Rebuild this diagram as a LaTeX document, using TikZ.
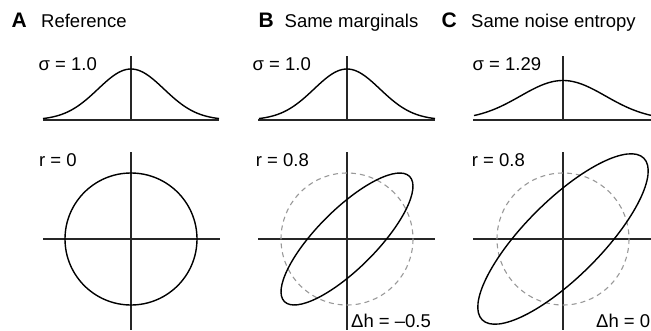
\documentclass[tikz,border=0pt]{standalone}
\usepackage{fontspec}
\setmainfont{Liberation Sans}
\begin{document}
\begin{tikzpicture}[x=1pt,y=-1pt,
  lbl/.style={anchor=base west,inner sep=0pt,font=\fontsize{18.5}{20}\selectfont},
  panel/.style={anchor=base west,inner sep=0pt,font=\fontsize{21}{23}\selectfont\bfseries},
  axis/.style={line width=1.2pt,black!85},
  curve/.style={line width=1.4pt,black},
  dcirc/.style={line width=1.1pt,gray!80,dash pattern=on 5pt off 4pt}]
\useasboundingbox (0,0) rectangle (651,330);
% titles
\node[panel] (pa) at (11.5,27.5) {A};
\node[lbl] (ta) at (41,27.5) {Reference};
\node[panel] (pb) at (258.5,27.5) {B};
\node[lbl] (tb) at (284.5,27.5) {Same marginals};
\node[panel] (pc) at (441.5,27.5) {C};
\node[lbl] (tc) at (471,27.5) {Same noise entropy};
% sigma labels
\node[lbl] (sa) at (38.5,70.7) {σ = 1.0};
\node[lbl] (sb) at (252.5,70.7) {σ = 1.0};
\node[lbl] (sc) at (472.5,70.7) {σ = 1.29};
% r labels
\node[lbl] (ra) at (39,166) {r = 0};
\node[lbl] (rb) at (255.7,166) {r = 0.8};
\node[lbl] (rc) at (471.7,166) {r = 0.8};
% delta h
\node[lbl] (dhb) at (351,327.5) {Δh = –0.5};
\node[lbl] (dhc) at (596,327.5) {Δh = 0};
% panel A
\draw[axis] (131,56) -- (131,120);
\draw[axis] (43,120) -- (219,120);
\draw[curve] plot[domain=-88:88,samples=90,smooth] ({131+\x},{120-51*exp(-\x*\x/2178)});
\draw[axis] (131,152) -- (131,330);
\draw[axis] (43,239) -- (220,239);
\draw[curve] (131,239) circle[radius=66];
% panel B
\draw[axis] (347,56) -- (347,120);
\draw[axis] (258,120) -- (435,120);
\draw[curve] plot[domain=-88:88,samples=90,smooth] ({347+\x},{120-51*exp(-\x*\x/2178)});
\draw[axis] (347,152) -- (347,330);
\draw[axis] (258,239) -- (435,239);
\draw[dcirc] (347,239) circle[radius=66];
\draw[curve,rotate around={45:(347,239)}] (347,239) ellipse[x radius=88.5,y radius=29.5];
% panel C
\draw[axis] (563,56) -- (563,120);
\draw[axis] (473,120) -- (651,120);
\draw[curve] plot[domain=-89:88,samples=90,smooth] ({563+\x},{120-39.5*exp(-\x*\x/3629)});
\draw[axis] (563,152) -- (563,330);
\draw[axis] (473,239) -- (651,239);
\draw[dcirc] (563,239) circle[radius=66];
\draw[curve,rotate around={45:(563,239)}] (563,239) ellipse[x radius=114.3,y radius=38.1];
\end{tikzpicture}
\end{document}
